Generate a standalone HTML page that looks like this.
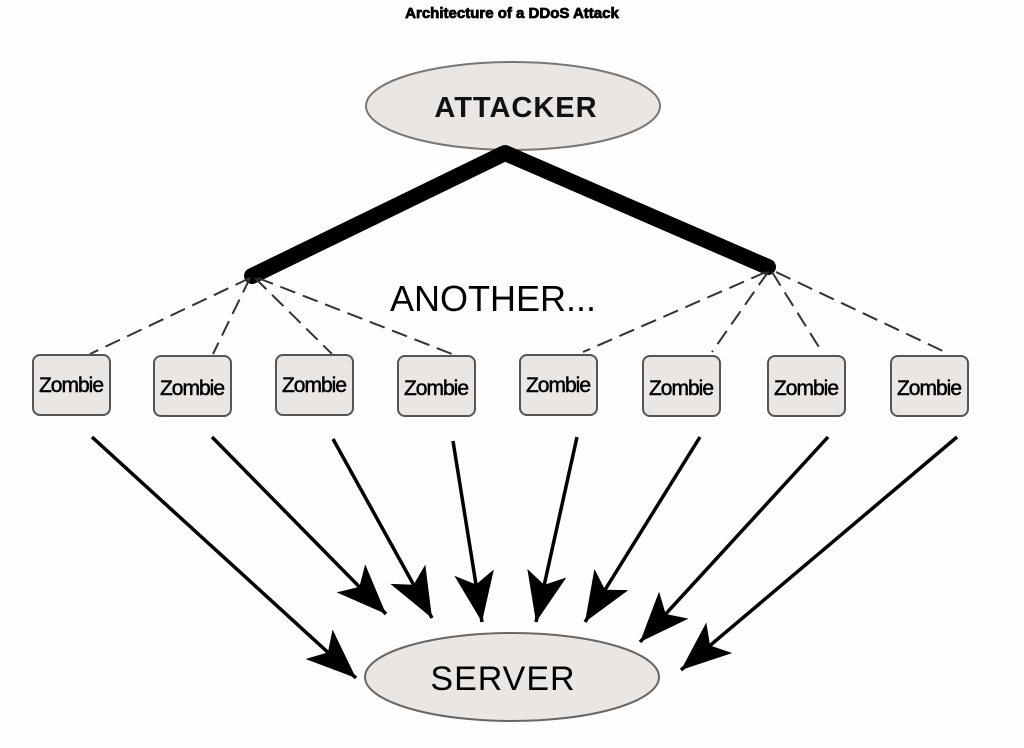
<!DOCTYPE html>
<html><head><meta charset="utf-8"><style>
html,body{margin:0;padding:0;background:#fdfefd;}
svg{display:block;}
</style></head><body>
<svg width="1024" height="748" viewBox="0 0 1024 748" xmlns="http://www.w3.org/2000/svg">
<defs>
<marker id="ah" markerUnits="userSpaceOnUse" markerWidth="56" markerHeight="44" refX="50" refY="20" orient="auto">
<path d="M0,0 L50,20 L0,40 L12,20 Z" fill="#000"/>
</marker>
</defs>
<text x="512" y="18" text-anchor="middle" font-family="Liberation Sans, sans-serif" font-weight="bold" font-size="15" stroke="#000" stroke-width="0.8" fill="#000">Architecture of a DDoS Attack</text>
<ellipse cx="513" cy="106" rx="147" ry="44" fill="#e9e6e4" stroke="#777" stroke-width="2"/>
<text x="516" y="117" text-anchor="middle" font-family="Liberation Sans, sans-serif" font-weight="bold" font-size="29" letter-spacing="1" fill="#111">ATTACKER</text>
<polyline points="252,276 505,153 768,267" fill="none" stroke="#000" stroke-width="16" stroke-linecap="round" stroke-linejoin="round"/>
<text x="493" y="311" text-anchor="middle" font-family="Liberation Sans, sans-serif" font-size="36" fill="#000">ANOTHER...</text>
<g stroke="#333" stroke-width="2" stroke-dasharray="16,8" fill="none">
<line x1="250" y1="278" x2="90" y2="354"/>
<line x1="250" y1="278" x2="213" y2="354"/>
<line x1="255" y1="278" x2="332" y2="354"/>
<line x1="258" y1="278" x2="452" y2="354"/>
<line x1="766" y1="272" x2="583" y2="352"/>
<line x1="768" y1="272" x2="712" y2="352"/>
<line x1="772" y1="272" x2="822" y2="352"/>
<line x1="776" y1="272" x2="945" y2="352"/>
</g>
<g fill="#e9e6e4" stroke="#555" stroke-width="2">
<rect x="33" y="355" width="77" height="60" rx="7"/>
<rect x="154" y="356" width="77" height="60" rx="7"/>
<rect x="276" y="355" width="77" height="60" rx="7"/>
<rect x="398" y="356" width="77" height="60" rx="7"/>
<rect x="520" y="355" width="77" height="60" rx="7"/>
<rect x="643" y="356" width="77" height="60" rx="7"/>
<rect x="768" y="356" width="77" height="60" rx="7"/>
<rect x="891" y="356" width="77" height="60" rx="7"/>
</g>
<g font-family="Liberation Sans, sans-serif" font-size="21" fill="#000" stroke="#000" stroke-width="0.5" text-anchor="middle" letter-spacing="-1">
<text x="71" y="392">Zombie</text>
<text x="192" y="395">Zombie</text>
<text x="314" y="392">Zombie</text>
<text x="436" y="395">Zombie</text>
<text x="558" y="392">Zombie</text>
<text x="681" y="395">Zombie</text>
<text x="806" y="395">Zombie</text>
<text x="929" y="395">Zombie</text>
</g>
<g stroke="#000" stroke-width="3.5" fill="none" marker-end="url(#ah)">
<line x1="92" y1="437" x2="356" y2="678"/>
<line x1="212" y1="437" x2="386" y2="614"/>
<line x1="333" y1="439" x2="432" y2="618"/>
<line x1="453" y1="441" x2="482" y2="622"/>
<line x1="577" y1="437" x2="536" y2="622"/>
<line x1="700" y1="437" x2="585" y2="622"/>
<line x1="828" y1="437" x2="640" y2="642"/>
<line x1="957" y1="437" x2="681" y2="670"/>
</g>
<ellipse cx="512" cy="677" rx="147" ry="44" fill="#e9e6e4" stroke="#666" stroke-width="2"/>
<text x="503" y="690" text-anchor="middle" font-family="Liberation Sans, sans-serif" font-size="34" letter-spacing="1" fill="#000">SERVER</text>
</svg>
</body></html>
